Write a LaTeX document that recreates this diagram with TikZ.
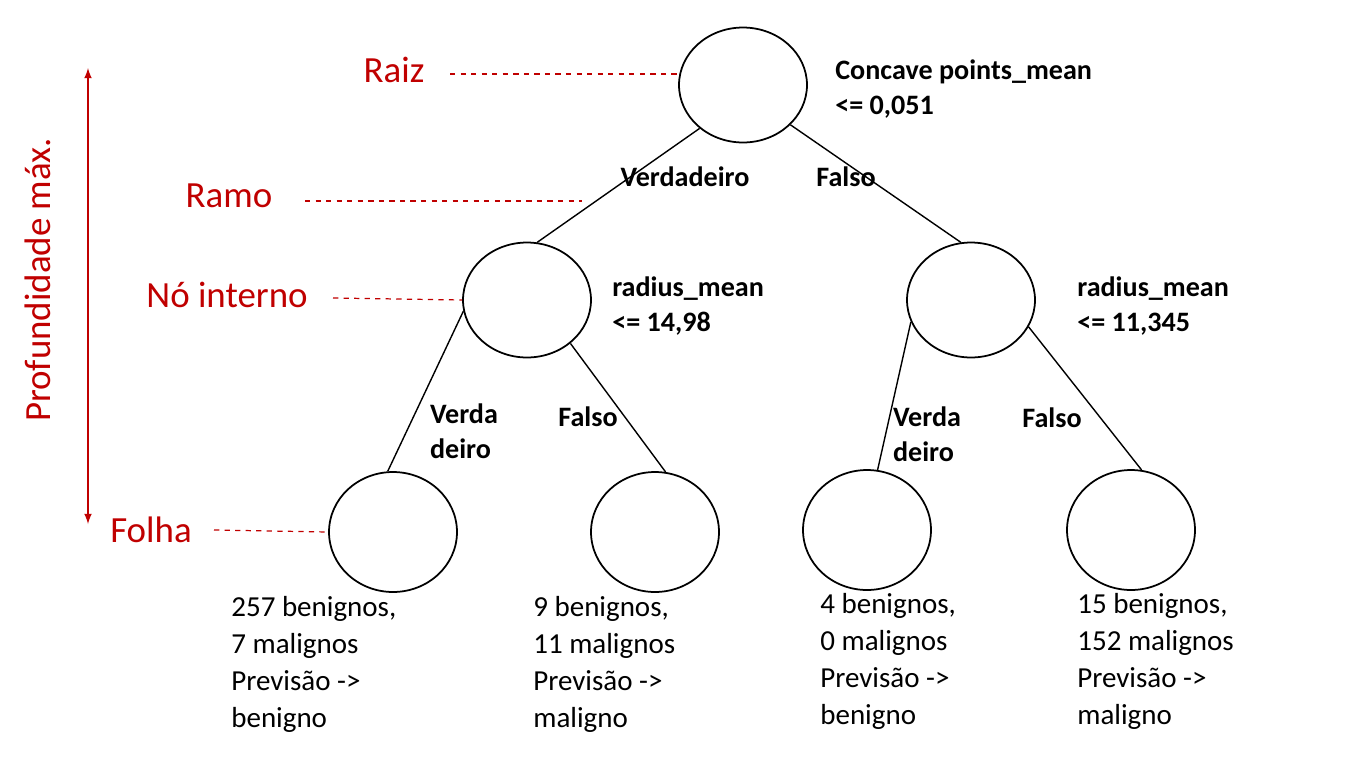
\documentclass[tikz,border=0pt]{standalone}
\usepackage{fontspec}
\setmainfont{Carlito}
\usetikzlibrary{positioning, shapes.geometric}
\definecolor{darkred}{RGB}{192,0,0}
\tikzset{
    knot/.style={draw, ellipse, minimum width=2.56cm, minimum height=2.3cm, line width=1pt},
    leaf/.style={draw, ellipse, minimum width=2.56cm, minimum height=2.4cm, line width=1pt},
    rule/.style={font=\fontsize{16}{20}\selectfont\bfseries, align=left, anchor=west, inner sep=0pt},
    edgelbl/.style={font=\fontsize{16}{20}\selectfont\bfseries, align=left, inner sep=0pt},
    result/.style={font=\fontsize{16.5}{21}\selectfont, align=left, anchor=north west, inner sep=0pt},
    part/.style={font=\fontsize{21}{25}\selectfont, text=darkred, inner sep=0pt},
    guide/.style={darkred, dashed, line width=0.7pt},
    branchline/.style={line width=0.8pt}
}
\begin{document}
\begin{tikzpicture}[x=0.02cm, y=-0.02cm, >=latex]
    \useasboundingbox (0,0) rectangle (1365,768);
    % tree
    \node[knot] (root) at (743,85) {};
    \node[knot] (left) at (527,300) {};
    \node[knot] (right) at (971,300) {};
    \node[leaf] (l1) at (393,532) {};
    \node[leaf] (l2) at (655,532) {};
    \node[leaf] (l3) at (867,530) {};
    \node[leaf] (l4) at (1131,530) {};
    \draw[branchline] (root.225) -- (left.80);
    \draw[branchline] (root.320) -- (right.100);
    \draw[branchline] (left.190) -- (l1.95);
    \draw[branchline] (left.315) -- (l2.80);
    \draw[branchline] (right.200) -- (l3.80);
    \draw[branchline] (right.335) -- (l4.80);
    % rules and edge labels
    \node[rule] (rroot) at (835,89) {Concave points\_mean\\<= 0,051};
    \node[rule] (rleft) at (612,306) {radius\_mean\\<= 14,98};
    \node[rule] (rright) at (1077,306) {radius\_mean\\<= 11,345};
    \node[edgelbl] (e1) at (685,177) {Verdadeiro};
    \node[edgelbl] (e2) at (846,177) {Falso};
    \node[edgelbl] (e3) at (464,431) {Verda\\deiro};
    \node[edgelbl] (e4) at (588,417) {Falso};
    \node[edgelbl] (e5) at (927,434) {Verda\\deiro};
    \node[edgelbl] (e6) at (1052,418) {Falso};
    % leaf results
    \node[result] (t1) at (231,596) {257 benignos,\\7 malignos\\Previsão ->\\benigno};
    \node[result] (t2) at (533,596) {9 benignos,\\11 malignos\\Previsão ->\\maligno};
    \node[result] (t3) at (820,593) {4 benignos,\\0 malignos\\Previsão ->\\benigno};
    \node[result] (t4) at (1077,593) {15 benignos,\\152 malignos\\Previsão ->\\maligno};
    % parts
    \node[part] (raiz) at (394,70) {Raiz};
    \node[part] (ramo) at (229,196) {Ramo};
    \node[part] (interno) at (227,295) {Nó interno};
    \node[part] (folha) at (151,530) {Folha};
    \coordinate (branch) at (582,201);
    \draw[guide] (450,74) -- (root.west |- 0,74);
    \draw[guide] (305,201) -- (branch);
    \draw[guide] (333,298) -- (left.west);
    \draw[guide] (214,530) -- (l1.west);
    % depth
    \coordinate (dtop) at (88,68);
    \coordinate (dbot) at (88,524);
    \draw[<->, darkred, line width=1pt] (dtop) -- (dbot);
    \node[part, rotate=90] (depth) at (38,280) {Profundidade máx.};
\end{tikzpicture}
\end{document}
